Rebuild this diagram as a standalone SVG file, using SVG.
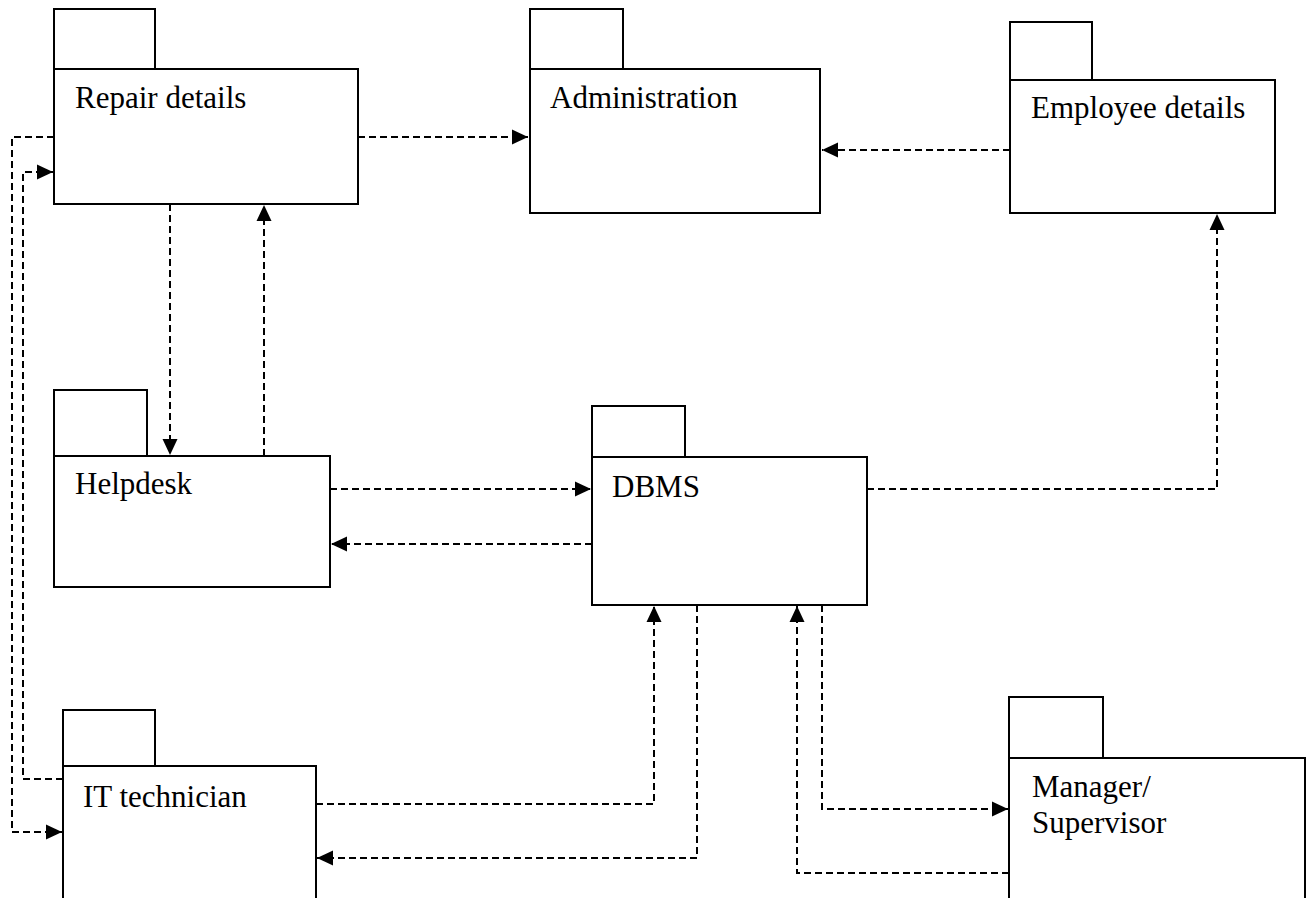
<svg xmlns="http://www.w3.org/2000/svg" width="1308" height="898" viewBox="0 0 1308 898">
<style>
.box{fill:#fff;stroke:#000;stroke-width:2}
.lbl{font-family:'Liberation Serif','DejaVu Serif',serif;font-size:31px;fill:#000}
.dep{fill:none;stroke:#000;stroke-width:2;stroke-dasharray:7,4}
</style>
<defs>
<marker id="ah" markerUnits="userSpaceOnUse" markerWidth="18" markerHeight="18" refX="16" refY="8" orient="auto">
<path d="M0,0.5 L16,8 L0,15.5 z" fill="#000"/>
</marker>
</defs>
<rect width="1308" height="898" fill="#fff"/>
<g id="connectors">
<path class="dep" d="M358,137 H528" marker-end="url(#ah)"/>
<path class="dep" d="M1010,150 H822" marker-end="url(#ah)"/>
<path class="dep" d="M54,137 H12 V832 H62" marker-end="url(#ah)"/>
<path class="dep" d="M63,779 H23 V172 H53" marker-end="url(#ah)"/>
<path class="dep" d="M170,204 V455" marker-end="url(#ah)"/>
<path class="dep" d="M264,456 V205" marker-end="url(#ah)"/>
<path class="dep" d="M330,489 H591" marker-end="url(#ah)"/>
<path class="dep" d="M592,544 H331" marker-end="url(#ah)"/>
<path class="dep" d="M867,489 H1217 V214" marker-end="url(#ah)"/>
<path class="dep" d="M316,804 H654 V606" marker-end="url(#ah)"/>
<path class="dep" d="M697,605 V858 H317" marker-end="url(#ah)"/>
<path class="dep" d="M1009,873 H797 V606" marker-end="url(#ah)"/>
<path class="dep" d="M822,605 V809 H1008" marker-end="url(#ah)"/>
</g>
<g id="repair-details">
<rect class="box" x="54" y="9" width="101" height="60"/>
<rect class="box" x="54" y="69" width="304" height="135"/>
<text class="lbl" x="75" y="108" font-family="Liberation Serif, serif">Repair details</text>
</g>
<g id="administration">
<rect class="box" x="530" y="9" width="93" height="60"/>
<rect class="box" x="530" y="69" width="290" height="144"/>
<text class="lbl" x="550" y="108" font-family="Liberation Serif, serif">Administration</text>
</g>
<g id="employee-details">
<rect class="box" x="1010" y="22" width="82" height="58"/>
<rect class="box" x="1010" y="80" width="265" height="133"/>
<text class="lbl" x="1031" y="118" font-family="Liberation Serif, serif">Employee details</text>
</g>
<g id="helpdesk">
<rect class="box" x="54" y="390" width="93" height="66"/>
<rect class="box" x="54" y="456" width="276" height="131"/>
<text class="lbl" x="75" y="494" font-family="Liberation Serif, serif">Helpdesk</text>
</g>
<g id="dbms">
<rect class="box" x="592" y="406" width="93" height="51"/>
<rect class="box" x="592" y="457" width="275" height="148"/>
<text class="lbl" x="612" y="497" font-family="Liberation Serif, serif">DBMS</text>
</g>
<g id="it-technician">
<rect class="box" x="63" y="710" width="92" height="56"/>
<rect class="box" x="63" y="766" width="253" height="140"/>
<text class="lbl" x="83" y="807" font-family="Liberation Serif, serif">IT technician</text>
</g>
<g id="manager-supervisor">
<rect class="box" x="1009" y="697" width="94" height="61"/>
<rect class="box" x="1009" y="758" width="296" height="148"/>
<text class="lbl" x="1032" y="797" font-family="Liberation Serif, serif">Manager/</text>
<text class="lbl" x="1032" y="833" font-family="Liberation Serif, serif">Supervisor</text>
</g>
</svg>
